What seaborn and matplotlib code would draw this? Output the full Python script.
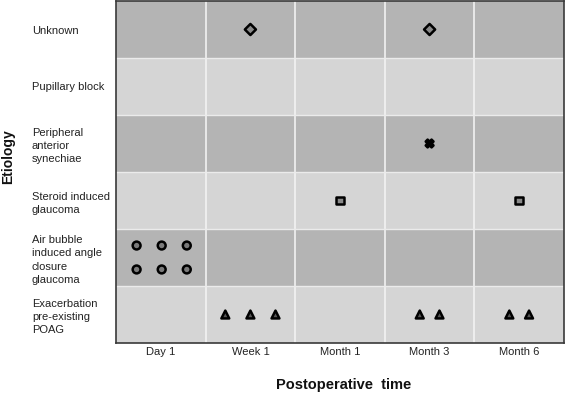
import numpy as np
import pandas as pd
import matplotlib
matplotlib.use("Agg")
import matplotlib.pyplot as plt
import seaborn as sns

# ---- data ----
etiology_keys = ["Unknown", "Pupillary block", "PAS", "Steroid", "Air bubble", "POAG"]
etiology_labels = ["Unknown", "Pupillary block", "Peripheral\nanterior\nsynechiae",
                   "Steroid induced\nglaucoma", "Air bubble\ninduced angle\nclosure\nglaucoma",
                   "Exacerbation\npre-existing\nPOAG"]
times = ["Day 1", "Week 1", "Month 1", "Month 3", "Month 6"]

cell_etiology = ["Unknown", "Unknown", "PAS", "Steroid", "Steroid", "Air bubble", "POAG", "POAG", "POAG"]
cell_time = ["Week 1", "Month 3", "Month 3", "Month 1", "Month 6", "Day 1", "Week 1", "Month 3", "Month 6"]
cell_count = [1, 1, 1, 1, 1, 6, 3, 2, 2]

# ---- layout of cases within a cell ----
def offsets(n):
    if n == 1:
        return [(0.0, 0.0)]
    if n == 2:
        return [(-0.11, 0.0), (0.11, 0.0)]
    if n == 3:
        return [(-0.28, 0.0), (0.0, 0.0), (0.28, 0.0)]
    return [(dx, dy) for dy in (-0.21, 0.21) for dx in (-0.27, 0.01, 0.29)][:n]

rows = []
for e, t, c in zip(cell_etiology, cell_time, cell_count):
    xi = times.index(t)
    yi = etiology_keys.index(e)
    for dx, dy in offsets(c):
        rows.append({"x": xi + dx, "y": yi + dy, "etiology": e})
df = pd.DataFrame(rows)

sns.set_style("white")
plt.rcParams["font.family"] = ["Liberation Sans", "DejaVu Sans"]

fig = plt.figure(figsize=(5.65, 3.99), dpi=100)
ax = fig.add_axes([116 / 565, 1 - 343 / 399, 448 / 565, 342 / 399])

dark, light = "#b4b4b4", "#d5d5d5"
for i in range(len(etiology_keys)):
    ax.axhspan(i - 0.5, i + 0.5, color=dark if i % 2 == 0 else light, zorder=0, lw=0)
for xv in np.arange(0.5, len(times) - 0.5, 1):
    ax.axvline(xv, color="#f2f2f2", lw=1.2, zorder=1)
for yv in np.arange(0.5, len(etiology_keys) - 0.5, 1):
    ax.axhline(yv, color="#ebebeb", lw=1.0, zorder=1)

markers = {"Unknown": "D", "PAS": "X", "Steroid": "s", "Air bubble": "o", "POAG": "^"}
palette = {"Unknown": "#8a8a8a", "PAS": "#000000", "Steroid": "#8a8a8a",
           "Air bubble": "#7a7a7a", "POAG": "#555555"}
sns.scatterplot(data=df, x="x", y="y", style="etiology", hue="etiology",
                markers=markers, palette=palette, s=32, edgecolor="black",
                linewidth=1.8, legend=False, ax=ax, zorder=3)

ax.set_xlim(-0.5, len(times) - 0.5)
ax.set_ylim(len(etiology_keys) - 0.5, -0.5)
ax.set_xticks(range(len(times)))
ax.set_xticklabels(times, fontsize=8, color="#222222")
ax.set_yticks(range(len(etiology_keys)))
ax.set_yticklabels(etiology_labels, fontsize=8, color="#222222", ha="left", linespacing=1.4)
ax.tick_params(axis="y", length=0, pad=60.5)
ax.tick_params(axis="x", length=0, pad=3)
ax.set_xlabel("")
ax.set_ylabel("")
for s in ax.spines.values():
    s.set_color("#3a3a3a")
    s.set_linewidth(1.2)

fig.text(344 / 565, 1 - 385 / 399, "Postoperative  time", fontsize=10.5,
         fontweight="bold", ha="center", va="center", color="#111111")
fig.text(8 / 565, 1 - 157 / 399, "Etiology", fontsize=10, fontweight="bold",
         rotation=90, ha="center", va="center", color="#111111")

fig.savefig("out.png", dpi=100)
